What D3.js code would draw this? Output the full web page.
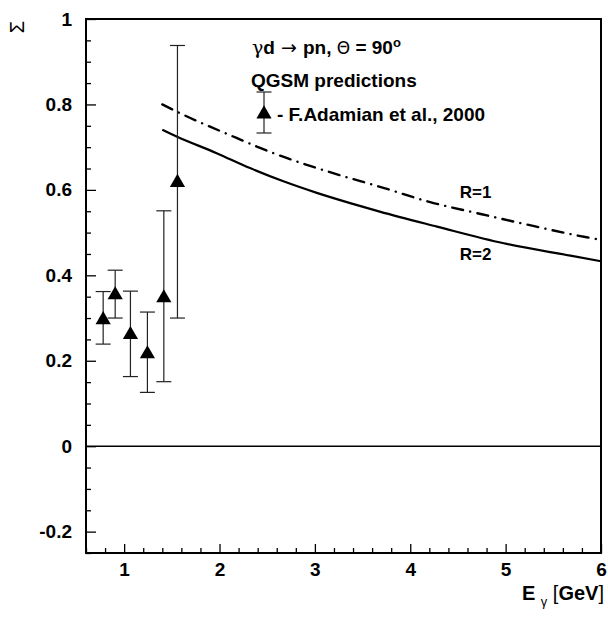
<!DOCTYPE html>
<html>
<head>
<meta charset="utf-8">
<script src="https://cdn.jsdelivr.net/npm/d3@7"></script>
<style>
  body { margin: 0; background: #fff; }
  svg text { font-family: "Liberation Sans", Arial, Helvetica, sans-serif; }
</style>
</head>
<body>
<svg width="608" height="617"></svg>
<script>
// measured points (F.Adamian et al., 2000)
const energy = [0.78, 0.906, 1.066, 1.244, 1.416, 1.559]
const sigma = [0.296, 0.354, 0.261, 0.216, 0.347, 0.617]
const errLow = [0.239, 0.300, 0.163, 0.126, 0.151, 0.300]
const errHigh = [0.362, 0.412, 0.363, 0.314, 0.551, 0.938]

// QGSM curves
const curveE1 = [1.4, 1.6, 2.1, 2.6, 3.15, 3.7, 4.2, 4.75, 5.3, 5.85, 6.0]
const curveR1 = [0.800, 0.778, 0.729, 0.683, 0.642, 0.606, 0.572, 0.543, 0.515, 0.489, 0.483]
const curveE2 = [1.4, 1.55, 1.97, 2.32, 2.67, 3.02, 3.37, 3.68, 4.28, 4.98, 5.68, 6.0]
const curveR2 = [0.741, 0.725, 0.686, 0.651, 0.620, 0.593, 0.569, 0.549, 0.514, 0.475, 0.446, 0.433]

const xTicks = [1, 2, 3, 4, 5, 6]
const yTicks = [-0.2, 0, 0.2, 0.4, 0.6, 0.8, 1]
const yTickLabels = ['-0.2', '0', '0.2', '0.4', '0.6', '0.8', '1']

const svg = d3.select('svg')
const margin = {left: 86, right: 7, top: 19, bottom: 64}
const width = 608 - margin.left - margin.right
const height = 617 - margin.top - margin.bottom

const x = d3.scaleLinear().domain([0.6, 6]).range([margin.left, margin.left + width])
const y = d3.scaleLinear().domain([-0.25, 1]).range([margin.top + height, margin.top])

drawChart()

function drawChart() {
    const xMinor = d3.range(0.6, 6.0001, 0.2).filter(v => Math.abs(v - Math.round(v)) > 0.01)
    const yMinor = d3.range(-0.25, 1.0001, 0.05).filter(v => Math.abs(v * 5 - Math.round(v * 5)) > 0.01)

    // minor ticks
    svg.append('g')
        .attr('transform', `translate(0,${y(-0.25)})`)
        .call(d3.axisBottom(x).tickValues(xMinor).tickSize(-5).tickFormat(''))
        .call(g => g.select('.domain').remove())
        .selectAll('line').attr('stroke-width', 1.3)
    svg.append('g')
        .attr('transform', `translate(${x(0.6)},0)`)
        .call(d3.axisLeft(y).tickValues(yMinor).tickSize(-5).tickFormat(''))
        .call(g => g.select('.domain').remove())
        .selectAll('line').attr('stroke-width', 1.3)

    // major ticks + labels
    const xAxis = svg.append('g')
        .attr('transform', `translate(0,${y(-0.25)})`)
        .call(d3.axisBottom(x).tickValues(xTicks).tickSize(-9).tickPadding(10).tickFormat(d3.format('d')))
    xAxis.select('.domain').remove()
    xAxis.selectAll('line').attr('stroke-width', 1.3)
    xAxis.selectAll('text')
        .attr('font-size', 19).attr('font-weight', 'bold').attr('fill', '#000')
        .style('font-family', '"Liberation Sans", Arial, sans-serif')

    const yAxis = svg.append('g')
        .attr('transform', `translate(${x(0.6)},0)`)
        .call(d3.axisLeft(y).tickValues(yTicks).tickSize(-10).tickPadding(14)
            .tickFormat((d, i) => yTickLabels[i]))
    yAxis.select('.domain').remove()
    yAxis.selectAll('line').attr('stroke-width', 1.3)
    yAxis.selectAll('text')
        .attr('font-size', 19).attr('font-weight', 'bold').attr('fill', '#000')
        .style('font-family', '"Liberation Sans", Arial, sans-serif')

    // zero line
    svg.append('line')
        .attr('x1', x(0.6)).attr('x2', x(6))
        .attr('y1', y(0)).attr('y2', y(0))
        .attr('stroke', '#000').attr('stroke-width', 1.4)

    // frame
    svg.append('rect')
        .attr('x', x(0.6)).attr('y', y(1))
        .attr('width', x(6) - x(0.6)).attr('height', y(-0.25) - y(1))
        .attr('fill', 'none').attr('stroke', '#000').attr('stroke-width', 2)

    // curves
    const line = d3.line().x(d => x(d[0])).y(d => y(d[1])).curve(d3.curveMonotoneX)
    svg.append('path')
        .datum(d3.zip(curveE1, curveR1))
        .attr('d', line)
        .attr('fill', 'none').attr('stroke', '#000').attr('stroke-width', 2.4)
        .attr('stroke-linecap', 'round')
        .attr('stroke-dasharray', '11,7.3,0.1,7.3')
    svg.append('path')
        .datum(d3.zip(curveE2, curveR2))
        .attr('d', line)
        .attr('fill', 'none').attr('stroke', '#000').attr('stroke-width', 2.2)

    svg.append('text').attr('x', x(4.52)).attr('y', y(0.58))
        .attr('font-size', 17).attr('font-weight', 'bold').text('R=1')
    svg.append('text').attr('x', x(4.52)).attr('y', y(0.435))
        .attr('font-size', 17).attr('font-weight', 'bold').text('R=2')

    // error bars
    const pts = energy.map((e, i) => ({e, s: sigma[i], lo: errLow[i], hi: errHigh[i]}))
    const bars = svg.append('g').attr('stroke', '#222').attr('stroke-width', 1.2)
    bars.selectAll('line.v').data(pts).join('line')
        .attr('x1', d => x(d.e)).attr('x2', d => x(d.e))
        .attr('y1', d => y(d.lo)).attr('y2', d => y(d.hi))
    bars.selectAll('line.top').data(pts).join('line')
        .attr('x1', d => x(d.e) - 7.5).attr('x2', d => x(d.e) + 7.5)
        .attr('y1', d => y(d.hi)).attr('y2', d => y(d.hi))
    bars.selectAll('line.bot').data(pts).join('line')
        .attr('x1', d => x(d.e) - 7.5).attr('x2', d => x(d.e) + 7.5)
        .attr('y1', d => y(d.lo)).attr('y2', d => y(d.lo))

    const tri = d3.symbol().type(d3.symbolTriangle).size(100)
    svg.selectAll('path.tri').data(pts).join('path')
        .attr('transform', d => `translate(${x(d.e)},${y(d.s)})`)
        .attr('d', tri).attr('fill', '#000')

    // legend
    const leg = svg.append('g').attr('font-size', 19).attr('font-weight', 'bold')
    const t1 = leg.append('text').attr('x', 252).attr('y', 54)
    t1.append('tspan').attr('font-weight', 'normal').attr('font-family', '"DejaVu Serif", serif').text('γ')
    t1.append('tspan').text('d')
    t1.append('tspan').attr('font-weight', 'normal').attr('font-family', '"DejaVu Sans", sans-serif').text(' → ')
    t1.append('tspan').text('pn,  ')
    t1.append('tspan').attr('font-weight', 'normal').attr('font-family', '"DejaVu Sans", sans-serif').attr('font-size', 17).text('Θ')
    t1.append('tspan').text(' = 90')
    t1.append('tspan').attr('font-size', 13).attr('dy', -7).text('o')
    leg.append('text').attr('x', 251).attr('y', 87).text('QGSM predictions')
    leg.append('text').attr('x', 277).attr('y', 121).text('- F.Adamian et al., 2000')

    const lx = 264, ly = 114
    const lg = svg.append('g').attr('stroke', '#222').attr('stroke-width', 1.2)
    lg.append('line').attr('x1', lx).attr('x2', lx).attr('y1', 92).attr('y2', 133)
    lg.append('line').attr('x1', lx - 7.5).attr('x2', lx + 7.5).attr('y1', 92).attr('y2', 92)
    lg.append('line').attr('x1', lx - 7.5).attr('x2', lx + 7.5).attr('y1', 133).attr('y2', 133)
    svg.append('path').attr('transform', `translate(${lx},${ly})`).attr('d', tri).attr('fill', '#000')

    // axis titles
    svg.append('text')
        .attr('transform', 'translate(24,27) rotate(-90)')
        .attr('text-anchor', 'middle')
        .attr('font-size', 20)
        .text('Σ')
    const xt = svg.append('text').attr('x', 604).attr('y', 600).attr('text-anchor', 'end')
        .attr('font-size', 20).attr('font-weight', 'bold')
    xt.append('tspan').text('E ')
    xt.append('tspan').attr('font-weight', 'normal').attr('font-size', 13).attr('dy', 6).text('γ')
    xt.append('tspan').attr('font-weight', 'normal').attr('dy', -6).text(' [')
    xt.append('tspan').text('GeV')
    xt.append('tspan').attr('font-weight', 'normal').text(']')
}
</script>
</body>
</html>
